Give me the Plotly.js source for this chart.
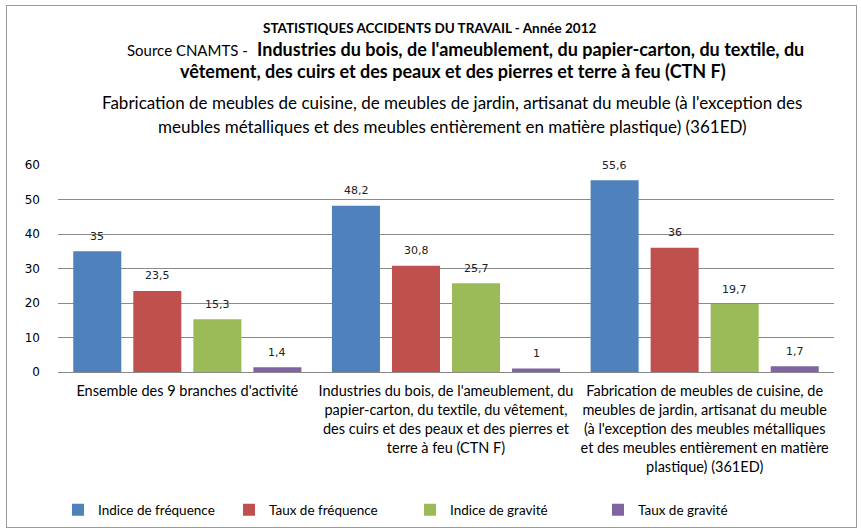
<!DOCTYPE html>
<html><head><meta charset="utf-8">
<script src="https://cdn.plot.ly/plotly-3.0.1.min.js"></script>
<style>
html,body{margin:0;padding:0;background:#fff;}
#wrap{position:relative;width:861px;height:531px;}
#chart{width:861px;height:531px;}
#frame{position:absolute;left:6px;top:5px;width:849px;height:521px;border:1px solid #9a9a9a;pointer-events:none;}
</style></head>
<body>
<div id="wrap"><div id="chart"></div><div id="frame"></div></div>
<script>
var categories = [
  "Ensemble des 9 branches d'activité",
  "Industries du bois, de l'ameublement, du<br>papier-carton, du textile, du vêtement,<br>des cuirs et des peaux et des pierres et<br>terre à feu (CTN F)",
  "Fabrication de meubles de cuisine, de<br>meubles de jardin, artisanat du meuble<br>(à l'exception des meubles métalliques<br>et des meubles entièrement en matière<br>plastique) (361ED)"
];
var seriesNames = ["Indice de fréquence", "Taux de fréquence", "Indice de gravité", "Taux de gravité"];
var indiceFrequence = [35, 48.2, 55.6];
var tauxFrequence = [23.5, 30.8, 36];
var indiceGravite = [15.3, 25.7, 19.7];
var tauxGravite = [1.4, 1, 1.7];
var colors = ["#4F81BD", "#C0504D", "#9BBB59", "#8064A2"];
var yTicks = [0, 10, 20, 30, 40, 50, 60];

var FONT = "Lato, 'Liberation Sans', Arial, sans-serif";
var NUMFONT = "'DejaVu Sans', Verdana, sans-serif";
var allSeries = [indiceFrequence, tauxFrequence, indiceGravite, tauxGravite];
var legendNames = ['legend', 'legend2', 'legend3', 'legend4'];
var traces = allSeries.map(function(vals, i){
  return {
    type: 'bar', name: seriesNames[i], x: categories, y: vals,
    marker: {color: colors[i]}, legend: legendNames[i],
    hoverinfo: 'none'
  };
});

function fmt(v){ return String(v).replace('.', ','); }
var annotations = [];
allSeries.forEach(function(vals, i){
  vals.forEach(function(v, j){
    annotations.push({x: categories[j], y: v, xref: 'x', yref: 'y', text: fmt(v),
      showarrow: false, xshift: (i - 1.5) * 60, yshift: 15, yanchor: 'middle',
      font: {family: NUMFONT, size: 11, color: '#222'}});
  });
});

function py(p){ return (372 - p) / 207; }
function px(p){ return (p - 58) / 776; }
[
  {text: "<b>STATISTIQUES ACCIDENTS DU TRAVAIL - Année 2012</b>", y: 28, x: 430, size: 13.5},
  {text: "<span style='font-size:15px'>Source CNAMTS -</span>  <b>Industries du bois, de l'ameublement, du papier-carton, du textile, du</b>", y: 49, x: 465, size: 18},
  {text: "<b>vêtement, des cuirs et des peaux et des pierres et terre à feu (CTN F)</b>", y: 71, x: 453, size: 18},
  {text: "Fabrication de meubles de cuisine, de meubles de jardin, artisanat du meuble (à l'exception des", y: 102, x: 452, size: 17},
  {text: "meubles métalliques et des meubles entièrement en matière plastique) (361ED)", y: 126, x: 452, size: 17}
].forEach(function(a){
  annotations.push({text: a.text, xref: 'paper', yref: 'paper', x: px(a.x), y: py(a.y),
    xanchor: 'center', yanchor: 'middle', showarrow: false,
    font: {family: FONT, size: a.size, color: '#000'}});
});

var legendX = [58, 229, 410, 598];
var layout = {
  width: 861, height: 531,
  margin: {l: 58, r: 27, t: 165, b: 159, autoexpand: false},
  paper_bgcolor: '#fff', plot_bgcolor: '#fff',
  barmode: 'group', bargap: 0.0716, bargroupgap: 0.2,
  showlegend: true,
  xaxis: {type: 'category', showline: true, linecolor: '#888', linewidth: 1,
    ticks: '', tickfont: {family: FONT, size: 14.5, color: '#000'}, ticklabelstandoff: 6,
    showgrid: false, fixedrange: true, automargin: false},
  yaxis: {range: [0, 60], tickvals: yTicks, showgrid: true, gridcolor: '#8a8a8a', gridwidth: 1,
    zeroline: false, showline: false, ticks: '', automargin: false,
    tickfont: {family: NUMFONT, size: 12, color: '#000'}, ticklabelstandoff: 17, fixedrange: true},
  annotations: annotations
};
legendNames.forEach(function(name, i){
  layout[name] = {orientation: 'h', x: px(legendX[i]), xanchor: 'left', y: py(510), yanchor: 'middle',
    font: {family: FONT, size: 13.5, color: '#000'}, bgcolor: 'rgba(0,0,0,0)'};
});
Plotly.newPlot('chart', traces, layout, {displayModeBar: false, staticPlot: true});
</script>
</body></html>
